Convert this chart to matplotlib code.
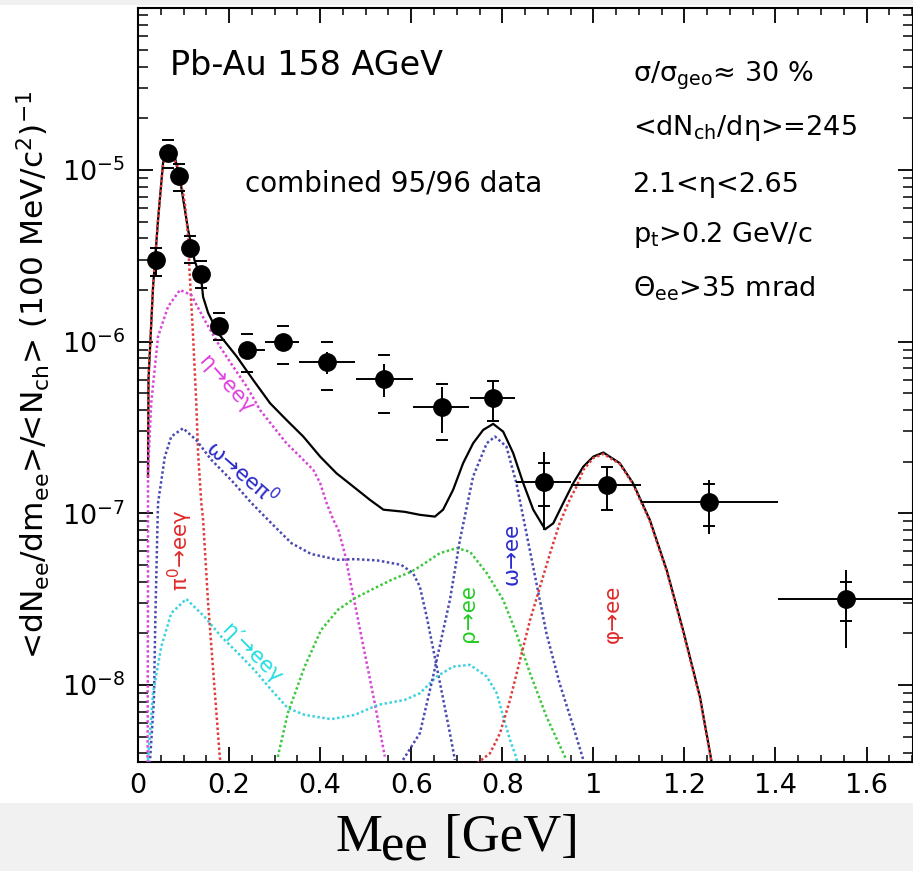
import matplotlib
matplotlib.use('Agg')
import matplotlib.pyplot as plt
import numpy as np
from matplotlib.ticker import FixedLocator, FuncFormatter, MultipleLocator, LogLocator, NullFormatter
from matplotlib.patches import Rectangle

plt.rcParams['font.family'] = ['DejaVu Sans']

# ---------------- data: measured points ----------------
mass = [0.040, 0.065, 0.091, 0.115, 0.139, 0.178, 0.240, 0.318, 0.416, 0.541,
        0.667, 0.779, 0.892, 1.029, 1.254, 1.554]
yld = [2.97e-6, 1.26e-5, 9.23e-6, 3.49e-6, 2.49e-6, 1.24e-6, 8.89e-7, 9.89e-7,
       7.58e-7, 6.07e-7, 4.18e-7, 4.68e-7, 1.53e-7, 1.46e-7, 1.16e-7, 3.17e-8]
bin_lo = [0.040, 0.065, 0.091, 0.115, 0.139, 0.178, 0.219, 0.278, 0.353, 0.479,
          0.603, 0.729, 0.830, 0.952, 1.105, 1.405]
bin_hi = [0.040, 0.065, 0.091, 0.115, 0.139, 0.178, 0.278, 0.353, 0.476, 0.603,
          0.727, 0.828, 0.952, 1.105, 1.405, 1.705]
stat_rel = [0.19, 0.06, 0.08, 0.10, 0.10, 0.08, 0.11, 0.11, 0.15, 0.22, 0.30,
            0.26, 0.48, 0.28, 0.35, 0.48]
syst_rel = [0.19, 0.18, 0.18, 0.18, 0.18, 0.18, 0.25, 0.25, 0.31, 0.37, 0.36,
            0.26, 0.28, 0.28, 0.27, 0.26]

# ---------------- data: hadronic cocktail ----------------
total_m = [0.022, 0.023, 0.033, 0.044, 0.055, 0.063, 0.070, 0.081, 0.095, 0.110,
           0.124, 0.139, 0.143, 0.154, 0.176, 0.217, 0.253, 0.290, 0.326, 0.363,
           0.400, 0.436, 0.473, 0.509, 0.539, 0.586, 0.619, 0.652, 0.670, 0.692,
           0.714, 0.736, 0.758, 0.780, 0.802, 0.824, 0.846, 0.868, 0.894, 0.912,
           0.934, 0.956, 0.978, 1.000, 1.022, 1.058, 1.087, 1.124, 1.161, 1.197,
           1.234, 1.259, 1.270]
total_y = [1.63e-7, 5.98e-7, 2.08e-6, 5.12e-6, 1.10e-5, 1.27e-5, 1.28e-5, 1.19e-5, 7.96e-6, 4.48e-6,
           2.99e-6, 2.29e-6, 1.82e-6, 1.47e-6, 1.12e-6, 8.18e-7, 5.98e-7, 4.38e-7, 3.50e-7, 2.80e-7,
           2.14e-7, 1.71e-7, 1.43e-7, 1.20e-7, 1.05e-7, 1.02e-7, 9.8e-8, 9.57e-8, 1.05e-7, 1.37e-7,
           1.96e-7, 2.56e-7, 3.06e-7, 3.32e-7, 2.99e-7, 2.24e-7, 1.50e-7, 1.05e-7, 8.07e-8, 8.75e-8,
           1.15e-7, 1.50e-7, 1.87e-7, 2.14e-7, 2.26e-7, 1.96e-7, 1.50e-7, 9.16e-8, 4.68e-8, 2.09e-8,
           8.56e-9, 3.66e-9, 2.0e-9]

pi0_m = [0.022, 0.023, 0.033, 0.044, 0.055, 0.063, 0.070, 0.080, 0.088, 0.103, 0.110,
         0.113, 0.121, 0.128, 0.132, 0.139, 0.143, 0.154, 0.165, 0.179, 0.182]
pi0_y = [1.63e-7, 5.98e-7, 2.08e-6, 5.12e-6, 1.08e-5, 1.24e-5, 1.24e-5, 1.14e-5, 1.04e-5, 6.39e-6, 4.09e-6,
         2.62e-6, 1.07e-6, 4.38e-7, 2.24e-7, 1.15e-7, 9.16e-8, 2.99e-8, 1.22e-8, 4.0e-9, 3.3e-9]

eta_m = [0.021, 0.022, 0.022, 0.029, 0.044, 0.066, 0.092, 0.117, 0.146, 0.180, 0.209, 0.239, 0.268,
         0.297, 0.326, 0.356, 0.385, 0.400, 0.414, 0.429, 0.440, 0.454, 0.476, 0.498, 0.520, 0.542]
eta_y = [3.3e-9, 4.68e-8, 1.79e-7, 4.38e-7, 1.07e-6, 1.60e-6, 2.00e-6, 1.87e-6, 1.34e-6, 9.35e-7, 7.15e-7,
         5.47e-7, 4.00e-7, 3.20e-7, 2.56e-7, 2.14e-7, 1.79e-7, 1.50e-7, 1.15e-7, 9.16e-8, 8.0e-8, 5.85e-8,
         2.99e-8, 1.53e-8, 7.83e-9, 3.83e-9]

omd_m = [0.026, 0.035, 0.038, 0.042, 0.044, 0.059, 0.073, 0.099, 0.128, 0.161, 0.205, 0.249, 0.293,
         0.337, 0.380, 0.439, 0.476, 0.527, 0.578, 0.604, 0.619, 0.634, 0.656, 0.685, 0.696]
omd_y = [3.5e-9, 8.19e-9, 2.39e-8, 7.0e-8, 1.15e-7, 2.14e-7, 2.80e-7, 3.13e-7, 2.67e-7, 2.05e-7, 1.56e-7,
         1.15e-7, 8.75e-8, 6.7e-8, 5.8e-8, 5.36e-8, 5.41e-8, 5.31e-8, 5.01e-8, 4.48e-8, 3.74e-8, 2.5e-8,
         1.28e-8, 5.24e-9, 3.66e-9]

etap_m = [0.022, 0.033, 0.051, 0.073, 0.106, 0.146, 0.183, 0.220, 0.256, 0.293, 0.329, 0.366, 0.424,
          0.476, 0.527, 0.586, 0.619, 0.656, 0.692, 0.729, 0.766, 0.788, 0.802, 0.817, 0.831, 0.834]
etap_y = [3.66e-9, 8.95e-9, 1.67e-8, 2.62e-8, 3.17e-8, 2.5e-8, 1.91e-8, 1.53e-8, 1.22e-8, 9.35e-9, 7.33e-9,
          6.7e-9, 6.32e-9, 6.7e-9, 7.66e-9, 8.19e-9, 8.95e-9, 1.12e-8, 1.28e-8, 1.31e-8, 1.12e-8, 8.95e-9,
          6.55e-9, 4.79e-9, 3.76e-9, 3.3e-9]

rho_m = [0.307, 0.329, 0.366, 0.402, 0.439, 0.476, 0.512, 0.556, 0.600, 0.619, 0.663, 0.700, 0.729,
         0.766, 0.802, 0.831, 0.861, 0.897, 0.934, 0.941]
rho_y = [3.81e-9, 6.86e-9, 1.28e-8, 2.09e-8, 2.74e-8, 3.2e-8, 3.58e-8, 4.09e-8, 4.57e-8, 4.9e-8, 5.86e-8,
         6.27e-8, 5.98e-8, 4.48e-8, 3.13e-8, 2.0e-8, 1.17e-8, 6.55e-9, 4.0e-9, 3.66e-9]

omee_m = [0.582, 0.619, 0.648, 0.685, 0.707, 0.736, 0.766, 0.784, 0.809, 0.831, 0.853, 0.875, 0.897,
          0.926, 0.956, 0.978]
omee_y = [3.66e-9, 5.24e-9, 1.12e-8, 3.13e-8, 7.0e-8, 1.64e-7, 2.56e-7, 2.80e-7, 2.45e-7, 1.50e-7,
          7.66e-8, 3.92e-8, 2.0e-8, 1.02e-8, 5.72e-9, 3.66e-9]

phi_m = [0.745, 0.773, 0.795, 0.817, 0.839, 0.861, 0.883, 0.905, 0.926, 0.948, 0.963, 0.978, 1.000,
         1.022, 1.058, 1.087, 1.124, 1.161, 1.197, 1.234, 1.259, 1.270]
phi_y = [3.5e-9, 4.0e-9, 5.24e-9, 8.19e-9, 1.40e-8, 2.39e-8, 3.74e-8, 5.86e-8, 8.75e-8, 1.20e-7, 1.43e-7,
         1.79e-7, 2.10e-7, 2.22e-7, 1.94e-7, 1.48e-7, 9.0e-8, 4.6e-8, 2.05e-8, 8.4e-9, 3.6e-9, 2.0e-9]

x_ticks = [0, 0.2, 0.4, 0.6, 0.8, 1.0, 1.2, 1.4, 1.6]
y_ticks = [1e-8, 1e-7, 1e-6, 1e-5]

# ---------------- figure ----------------
W, H = 913, 871
fig = plt.figure(figsize=(W / 100, H / 100), dpi=100)
fig.patches.append(Rectangle((0, 0), 1, 68 / H, transform=fig.transFigure,
                             facecolor='#f1f1f1', edgecolor='none', zorder=0))
fig.patches.append(Rectangle((0, 1 - 5 / H), 1, 5 / H, transform=fig.transFigure,
                             facecolor='#f1f1f1', edgecolor='none', zorder=0))

ax = fig.add_axes([138 / W, 1 - 762 / H, 775 / W, 754 / H])
ax.set_yscale('log')
ax.set_xlim(0, 1.702)
ax.set_ylim(3.56e-9, 8.78e-5)

dot = (0, (1, 1.0))
lw_dot = 1.8
ax.plot(total_m, total_y, color='black', lw=1.6, zorder=2)
ax.plot(pi0_m, pi0_y, color='#e03c3c', ls=dot, lw=lw_dot, zorder=3)
ax.plot(eta_m, eta_y, color='#d845d8', ls=dot, lw=lw_dot, zorder=3)
ax.plot(omd_m, omd_y, color='#4a4ab4', ls=dot, lw=lw_dot, zorder=3)
ax.plot(etap_m, etap_y, color='#3cd2e0', ls=dot, lw=lw_dot, zorder=3)
ax.plot(rho_m, rho_y, color='#3cc83c', ls=dot, lw=lw_dot, zorder=3)
ax.plot(omee_m, omee_y, color='#4a4ab4', ls=dot, lw=lw_dot, zorder=3)
ax.plot(phi_m, phi_y, color='#e03c3c', ls=dot, lw=lw_dot, zorder=3)

m = np.array(mass)
y = np.array(yld)
xerr = [m - np.array(bin_lo), np.array(bin_hi) - m]
st = y * np.array(stat_rel)
sy = y * np.array(syst_rel)
ax.errorbar(m, y, xerr=xerr, yerr=[st, st], fmt='o', color='black', ms=12.5,
            elinewidth=1.4, capsize=0, zorder=5, clip_on=True)
ax.plot(m, y + sy, ls='none', marker='_', ms=8, mew=1.4, color='black', zorder=5)
ax.plot(m, y - sy, ls='none', marker='_', ms=8, mew=1.4, color='black', zorder=5)

# curve labels
lab = dict(ha='center', va='center', fontsize=15.5, zorder=4)
ax.text(0.193, 5.6e-7, 'η→eeγ', color='#e040e0', rotation=-48, **lab)
ax.text(0.228, 1.72e-7, r'ω→eeπ$^{\mathregular{0}}$', color='#2a2ac8', rotation=-41, **lab)
ax.text(0.094, 6.1e-8, r'π$^{\mathregular{0}}$→eeγ', color='#e02a2a', rotation=90, **lab)
ax.text(0.250, 1.52e-8, 'η′→eeγ', color='#22dde0', rotation=-45, **lab)
ax.text(0.724, 2.63e-8, 'ρ→ee', color='#22cc22', rotation=90, **lab)
ax.text(0.820, 5.8e-8, 'ω→ee', color='#2a2ad0', rotation=90, **lab)
ax.text(1.043, 2.6e-8, 'φ→ee', color='#e02a2a', rotation=90, **lab)

# annotations
ax.text(0.0413, 0.911, 'Pb-Au 158 AGeV', transform=ax.transAxes, fontsize=24, va='baseline')
ax.text(0.138, 0.756, 'combined 95/96 data', transform=ax.transAxes, fontsize=20, va='baseline')
rx = 0.639
fs = 19.5
ax.text(rx, 0.902, r'σ/σ$_{\mathregular{geo}}$≈ 30 %', transform=ax.transAxes, fontsize=fs, va='baseline')
ax.text(rx, 0.8316, r'<dN$_{\mathregular{ch}}$/dη>=245', transform=ax.transAxes, fontsize=fs, va='baseline')
ax.text(rx, 0.756, '2.1<η<2.65', transform=ax.transAxes, fontsize=fs, va='baseline')
ax.text(rx, 0.690, r'p$_{\mathregular{t}}$>0.2 GeV/c', transform=ax.transAxes, fontsize=fs, va='baseline')
ax.text(rx, 0.617, r'Θ$_{\mathregular{ee}}$>35 mrad', transform=ax.transAxes, fontsize=fs, va='baseline')

# axes styling
for s in ax.spines.values():
    s.set_linewidth(1.5)
ax.xaxis.set_major_locator(FixedLocator(x_ticks))
ax.xaxis.set_major_formatter(FuncFormatter(lambda v, p: '%g' % round(v, 1)))
ax.xaxis.set_minor_locator(MultipleLocator(0.05))
ax.yaxis.set_major_locator(FixedLocator(y_ticks))
ax.yaxis.set_major_formatter(FuncFormatter(lambda v, p: r'$\mathregular{10^{%d}}$' % int(round(np.log10(v)))))
ax.yaxis.set_minor_locator(LogLocator(base=10, subs=np.arange(2, 10)))
ax.yaxis.set_minor_formatter(NullFormatter())
ax.tick_params(which='major', direction='in', length=11, width=1.3, top=True, right=True,
               labelsize=19.5)
ax.tick_params(axis='x', which='major', pad=8)
ax.tick_params(axis='y', which='major', pad=9)
ax.tick_params(axis='x', which='minor', direction='in', length=5, width=1.1, top=True)
ax.tick_params(axis='y', which='minor', direction='in', length=7, width=1.1, right=True)

# axis titles
fig.text(33 / W, 1 - 375 / H,
         r'<dN$_{\mathregular{ee}}$/dm$_{\mathregular{ee}}$>/<N$_{\mathregular{ch}}$> (100 MeV/c$^{\mathregular{2}}$)$^{\mathregular{-1}}$',
         rotation=90, ha='center', va='center', fontsize=22.5)
serif = dict(fontfamily='Liberation Serif', fontsize=38, va='baseline', ha='left')
fig.text(335 / W, 1 - 851 / H, 'M', **serif)
fig.text(381 / W, 1 - 860 / H, 'ee', **serif)
fig.text(431 / W, 1 - 851 / H, ' [GeV]', **serif)

fig.savefig('out.png', dpi=100)
